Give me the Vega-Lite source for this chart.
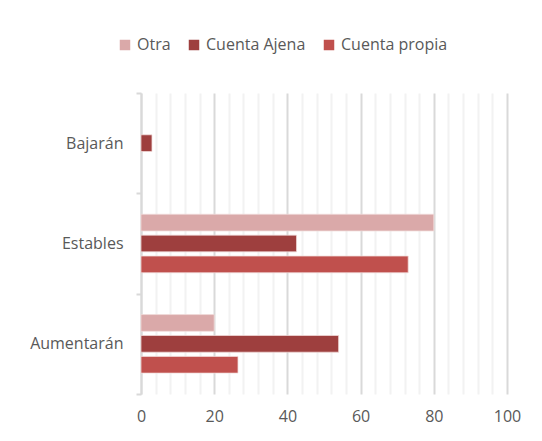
{
  "$schema": "https://vega.github.io/schema/vega-lite/v6.json",
  "width": 366,
  "height": 301,
  "autosize": {"type": "none"},
  "padding": {"left": 141, "top": 93, "right": 35, "bottom": 47},
  "background": "white",
  "config": {
    "view": {"stroke": null},
    "font": "Open Sans"
  },
  "data": {
    "values": [
      {"cat": "Bajarán", "serie": "Cuenta Ajena", "value": 3},
      {"cat": "Estables", "serie": "Otra", "value": 80},
      {"cat": "Estables", "serie": "Cuenta Ajena", "value": 42.5},
      {"cat": "Estables", "serie": "Cuenta propia", "value": 73},
      {"cat": "Aumentarán", "serie": "Otra", "value": 20},
      {"cat": "Aumentarán", "serie": "Cuenta Ajena", "value": 54},
      {"cat": "Aumentarán", "serie": "Cuenta propia", "value": 26.5}
    ]
  },
  "mark": {"type": "bar", "stroke": "#f2dcdb", "strokeWidth": 0.75},
  "encoding": {
    "y": {
      "field": "cat",
      "type": "nominal",
      "sort": ["Bajarán", "Estables", "Aumentarán"],
      "scale": {"paddingInner": 0, "paddingOuter": 0},
      "axis": {
        "title": null,
        "tickBand": "extent",
        "domainColor": "#d9d9d9",
        "domainWidth": 2,
        "tickColor": "#d9d9d9",
        "tickWidth": 2,
        "tickSize": 5,
        "labelFont": "Open Sans",
        "labelFontSize": 16,
        "labelColor": "#595959",
        "labelPadding": 13,
        "grid": false
      }
    },
    "yOffset": {
      "field": "serie",
      "type": "nominal",
      "sort": ["Otra", "Cuenta Ajena", "Cuenta propia"],
      "scale": {"paddingInner": 0.2, "paddingOuter": 1.1}
    },
    "x": {
      "field": "value",
      "type": "quantitative",
      "scale": {"domain": [0, 100], "nice": false},
      "axis": {
        "title": null,
        "values": [0, 4, 8, 12, 16, 20, 24, 28, 32, 36, 40, 44, 48, 52, 56, 60, 64, 68, 72, 76, 80, 84, 88, 92, 96, 100],
        "labelExpr": "datum.value % 20 === 0 ? datum.label : ''",
        "domain": false,
        "ticks": false,
        "grid": true,
        "gridColor": {"condition": {"test": "datum.value % 20 === 0", "value": "#d9d9d9"}, "value": "#f2f2f2"},
        "gridWidth": 2,
        "labelFont": "Open Sans",
        "labelFontSize": 16,
        "labelColor": "#595959",
        "labelPadding": 14,
        "labelFlush": false
      }
    },
    "color": {
      "field": "serie",
      "type": "nominal",
      "sort": ["Otra", "Cuenta Ajena", "Cuenta propia"],
      "scale": {
        "domain": ["Otra", "Cuenta Ajena", "Cuenta propia"],
        "range": ["#daa9a9", "#9e3f3e", "#c0504d"]
      },
      "legend": {
        "title": null,
        "orient": "none",
        "direction": "horizontal",
        "legendX": -24,
        "legendY": -56,
        "symbolType": "square",
        "symbolSize": 110,
        "symbolStrokeWidth": 0,
        "labelFont": "Open Sans",
        "labelFontSize": 16,
        "labelColor": "#595959",
        "labelOffset": 4,
        "columnPadding": 15
      }
    }
  }
}
